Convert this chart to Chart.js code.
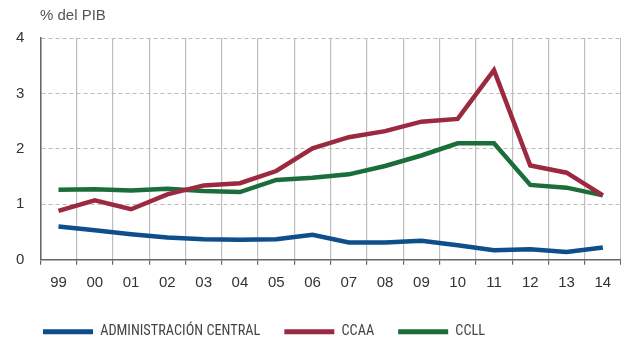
<!DOCTYPE html>
<html>
<head>
<meta charset="utf-8">
<script src="https://cdn.jsdelivr.net/npm/chart.js@4.4.1/dist/chart.umd.min.js"></script>
<style>
  html, body { margin: 0; padding: 0; background: #fff; overflow: hidden; }
  #wrap { width: 621px; height: 344px; position: relative; }
</style>
</head>
<body>
<div id="wrap"><canvas id="grafico"></canvas></div>
<script>
const years = ["99", "00", "01", "02", "03", "04", "05", "06", "07", "08", "09", "10", "11", "12", "13", "14"];
const adminCentral = [0.60, 0.53, 0.46, 0.40, 0.37, 0.36, 0.37, 0.45, 0.31, 0.31, 0.34, 0.26, 0.17, 0.19, 0.14, 0.22];
const ccaa = [0.88, 1.07, 0.91, 1.18, 1.34, 1.38, 1.60, 2.01, 2.21, 2.32, 2.49, 2.54, 3.42, 1.70, 1.57, 1.16];
const ccll = [1.26, 1.27, 1.25, 1.28, 1.24, 1.22, 1.44, 1.48, 1.54, 1.69, 1.88, 2.10, 2.10, 1.35, 1.30, 1.16];
const yTicks = [0, 1, 2, 3, 4];

// unit label above the y axis
const unidad = {
  id: "unidad",
  afterLayout(chart) {
    // push the legend to line up with the reference
    chart.legend.left = 19;
  },
  afterDraw(chart) {
    const ctx = chart.ctx;
    ctx.save();
    ctx.font = "15px 'Liberation Sans', Arial, sans-serif";
    ctx.fillStyle = "#555";
    ctx.textBaseline = "middle";
    ctx.fillText("% del PIB", 40, 16);
    ctx.restore();
  }
};

function serie(label, values, color) {
  return {
    label: label,
    data: values,
    borderColor: color,
    backgroundColor: color,
    borderWidth: 4.5,
    pointRadius: 0,
    tension: 0,
    fill: false
  };
}

const myChart = new Chart(document.getElementById("grafico"), {
  type: "line",
  data: {
    labels: years,
    datasets: [
      serie("ADMINISTRACIÓN CENTRAL", adminCentral, "#0d4e8b"),
      serie("CCAA", ccaa, "#9b2940"),
      serie("CCLL", ccll, "#1b6e3a")
    ]
  },
  options: {
    responsive: true,
    maintainAspectRatio: false,
    animation: false,
    layout: { padding: { top: 38, left: 0, right: 0, bottom: -5 } },
    plugins: {
      tooltip: { enabled: false },
      legend: {
        position: "bottom",
        align: "start",
        labels: {
          boxWidth: 50,
          boxHeight: 5,
          padding: 24,
          color: "#444",
          font: { family: "'Liberation Sans Narrow', 'Roboto Condensed', Arial, sans-serif", size: 14.3 },
          generateLabels(chart) {
            return Chart.defaults.plugins.legend.labels.generateLabels(chart).map(item => {
              item.lineWidth = 0;
              return item;
            });
          }
        }
      }
    },
    scales: {
      x: {
        offset: true,
        grid: {
          offset: true,
          color: "#bdbdbd",
          lineWidth: 1.2,
          drawTicks: true,
          tickLength: 5,
          tickColor: "#666"
        },
        border: { color: "#666", width: 1.5 },
        ticks: {
          color: "#333",
          padding: 9,
          font: { family: "'Liberation Sans', Arial, sans-serif", size: 15 }
        }
      },
      y: {
        min: 0,
        max: 4,
        afterBuildTicks(axis) { axis.ticks = yTicks.map(v => ({ value: v })); },
        grid: {
          color: "#bbb",
          lineWidth: 1,
          drawTicks: false
        },
        border: { color: "#666", width: 1.5, dash: [4, 3] },
        ticks: {
          color: "#333",
          padding: 16,
          font: { family: "'Liberation Sans', Arial, sans-serif", size: 15 }
        }
      }
    }
  },
  plugins: [unidad]
});
</script>
</body>
</html>
